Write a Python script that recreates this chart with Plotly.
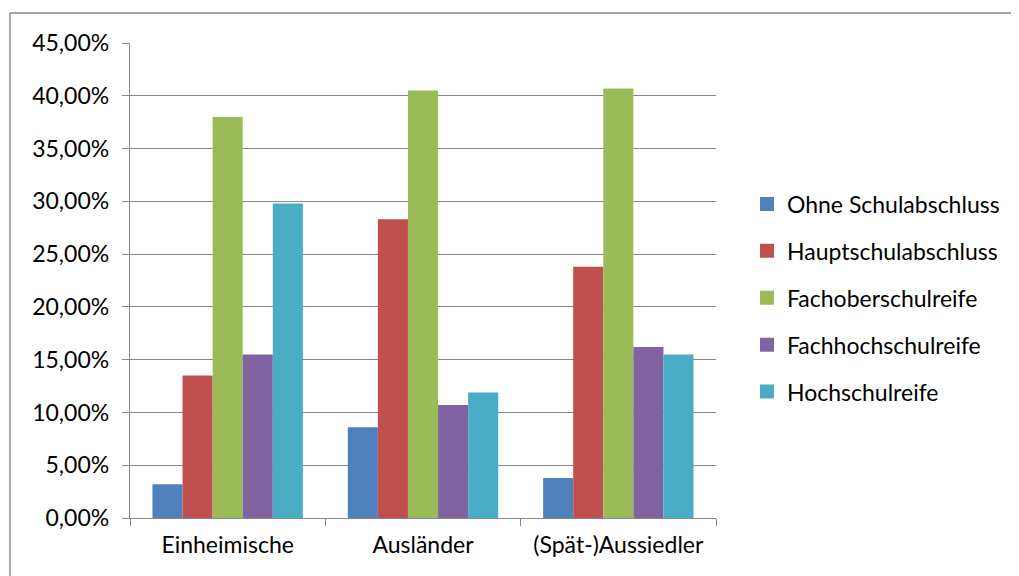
import plotly.graph_objects as go

categories = ["Einheimische", "Ausländer", "(Spät-)Aussiedler"]
series_names = ["Ohne Schulabschluss", "Hauptschulabschluss", "Fachoberschulreife",
                "Fachhochschulreife", "Hochschulreife"]
ohne = [0.032, 0.086, 0.038]
haupt = [0.135, 0.283, 0.238]
fachober = [0.380, 0.405, 0.407]
fachhoch = [0.155, 0.107, 0.162]
hochschul = [0.298, 0.119, 0.155]
colors = ["#4F81BD", "#C0504D", "#9BBB59", "#8064A2", "#4BACC6"]
y_ticks = [0, 0.05, 0.10, 0.15, 0.20, 0.25, 0.30, 0.35, 0.40, 0.45]

values = [ohne, haupt, fachober, fachhoch, hochschul]

OFF = 8  # default page margin of the HTML body
W, H = 1019 - OFF, 576 - OFF
L, R, T, B = 130 - OFF, 716 - OFF, 43 - OFF, 518 - OFF

fig = go.Figure()
for i, (name, vals) in enumerate(zip(series_names, values)):
    fig.add_trace(go.Bar(x=categories, y=vals, name=name, marker_color=colors[i],
                         marker_line_width=0, showlegend=False))
# legend entries with a slightly larger square swatch
for i, name in enumerate(series_names):
    fig.add_trace(go.Scatter(x=[None], y=[None], mode="markers", name=name,
                             marker=dict(symbol="square", size=14, color=colors[i]),
                             legendgroup=str(i), showlegend=True))

grid = "#878787"
pw, ph = R - L, B - T
fig.update_layout(
    width=W, height=H,
    margin=dict(l=L, r=W - R, t=T, b=H - B),
    paper_bgcolor="white", plot_bgcolor="white",
    font=dict(family="Lato, Noto Sans, sans-serif", size=23, color="#000000"),
    separators=",.",
    barmode="group", bargap=0.23, bargroupgap=0,
    legend=dict(x=(747 - OFF - L) / pw, y=(B - (298 - OFF)) / ph, xanchor="left", yanchor="middle",
                traceorder="grouped", tracegroupgap=14, font=dict(size=23),
                itemwidth=30),
    showlegend=True,
)
fig.update_yaxes(range=[0, 0.45], tickvals=y_ticks, tickformat=".2%",
                 showgrid=True, gridcolor=grid, gridwidth=1.4,
                 showline=True, linecolor=grid, linewidth=1.4,
                 ticks="outside", ticklen=7, tickcolor=grid, tickwidth=1.4,
                 zeroline=False, ticklabelstandoff=8)
fig.update_xaxes(showline=True, linecolor=grid, linewidth=1.4,
                 ticks="outside", ticklen=7, tickcolor=grid, tickwidth=1.4,
                 tickson="boundaries", showgrid=False, ticklabelstandoff=6)

# outer chart border: only the top and left edges are visible in the frame
bx0 = (10 - OFF - L) / pw
by1 = 1 + (T - (13 - OFF)) / ph
fig.add_shape(type="line", xref="paper", yref="paper",
              x0=bx0, x1=(W - L) / pw, y0=by1, y1=by1,
              line=dict(color="#868686", width=1.4), layer="below")
fig.add_shape(type="line", xref="paper", yref="paper",
              x0=bx0, x1=bx0, y0=-(H - B) / ph, y1=by1,
              line=dict(color="#868686", width=1.4), layer="below")

fig.write_html("out.html")
